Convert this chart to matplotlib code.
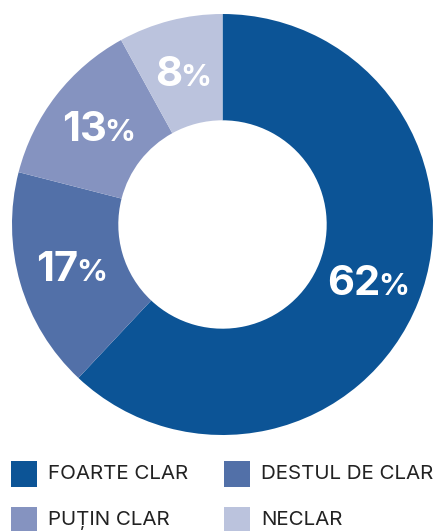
import matplotlib
matplotlib.use('Agg')
import matplotlib.pyplot as plt
from matplotlib.patches import Rectangle
import numpy as np

# data
labels = ['FOARTE CLAR', 'DESTUL DE CLAR', 'PUȚIN CLAR', 'NECLAR']
values = [62, 17, 13, 8]
colors = ['#0C5496', '#5270A8', '#8593C0', '#BBC3DD']

W, H = 438, 531
fig = plt.figure(figsize=(W / 100, H / 100), dpi=100)
plt.rcParams['font.family'] = ['Inter', 'DejaVu Sans']

# donut: outer circle spans ~x 12..433, y 14..435 px
ax = fig.add_axes([12 / W, (H - 435) / H, 421 / W, 421 / H])
wedges, _ = ax.pie(values, colors=colors, startangle=90, counterclock=False,
                   radius=1, wedgeprops=dict(width=0.505, linewidth=0))
ax.set_xlim(-1, 1)
ax.set_ylim(-1, 1)
ax.set_aspect('equal')
ax.axis('off')

renderer = fig.canvas.get_renderer()
for w, v in zip(wedges, values):
    ang = np.deg2rad((w.theta1 + w.theta2) / 2)
    r = 0.745
    x, y = r * np.cos(ang), r * np.sin(ang)
    num = ax.text(0, 0, str(v), fontsize=30, fontweight='bold', color='white',
                  ha='left', va='baseline')
    pct = ax.text(0, 0, '%', fontsize=22, fontweight='bold', color='white',
                  ha='left', va='baseline')
    bn = num.get_window_extent(renderer)
    bp = pct.get_window_extent(renderer)
    gap = -2
    tot = bn.width + bp.width + gap
    cx, cy = ax.transData.transform((x, y))
    x0 = cx - tot / 2
    base = cy - 13
    inv = ax.transData.inverted()
    num.set_position(inv.transform((x0, base)))
    pct.set_position(inv.transform((x0 + bn.width + gap, base)))

# legend drawn by hand, two columns
cols_x = [11, 224]
rows_y = [461, 507]
for i, (lab, c) in enumerate(zip(labels, colors)):
    px = cols_x[i % 2]
    py = rows_y[i // 2]
    fig.patches.append(Rectangle((px / W, 1 - (py + 26) / H), 26 / W, 26 / H,
                                 transform=fig.transFigure, color=c, lw=0))
    fig.text((px + 37) / W, 1 - (py + 13) / H, lab, fontsize=14.8,
             color='#222222', ha='left', va='center')

fig.savefig('out.png', dpi=100)
